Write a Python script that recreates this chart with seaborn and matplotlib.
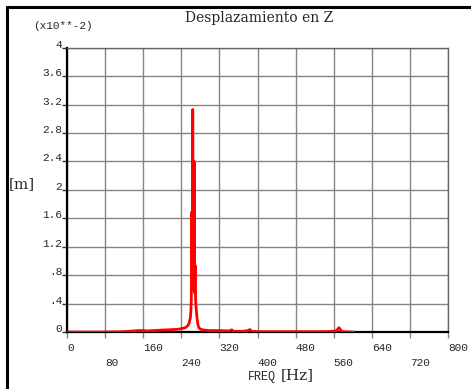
import matplotlib
matplotlib.use("Agg")
import matplotlib.pyplot as plt
import seaborn as sns
from matplotlib.lines import Line2D

# Espectro de desplazamiento (unidades de 1e-2 m)
freq_hz = [0, 40, 80, 120, 140, 150, 160, 170, 180, 195, 210, 225, 235, 242,
           248, 252, 255, 257, 259, 260, 261, 262, 263, 264, 265, 266, 267,
           268, 269, 270, 271, 272, 273, 274, 275, 277, 280, 285, 290, 300,
           320, 340, 346, 350, 370, 380, 384, 388, 400, 450, 500, 540, 560,
           566, 571, 576, 580, 601]
disp_e2 = [0.0, 0.0, 0.0, 0.005, 0.015, 0.02, 0.02, 0.015, 0.02, 0.025, 0.03,
           0.035, 0.04, 0.05, 0.06, 0.08, 0.1, 0.14, 0.2, 0.28, 0.45, 1.69,
           0.6, 3.13, 1.1, 0.7, 2.40, 0.55, 0.94, 0.45, 0.35, 0.28, 0.2, 0.15,
           0.1, 0.06, 0.04, 0.03, 0.025, 0.02, 0.02, 0.015, 0.03, 0.01, 0.01,
           0.02, 0.035, 0.01, 0.005, 0.005, 0.005, 0.005, 0.01, 0.02, 0.06,
           0.015, 0.005, 0.0]

x_major = [0, 160, 320, 480, 640, 800]
x_minor = [80, 240, 400, 560, 720]
y_ticks = [0, 0.4, 0.8, 1.2, 1.6, 2.0, 2.4, 2.8, 3.2, 3.6, 4.0]
y_labels = ["0", ".4", ".8", "1.2", "1.6", "2", "2.4", "2.8", "3.2", "3.6", "4"]

sns.set_style("white")
plt.rcParams["font.family"] = ["Liberation Mono", "DejaVu Sans Mono"]

W, H = 471, 389
fig = plt.figure(figsize=(W / 100, H / 100), dpi=100)
ax = fig.add_axes([67 / W, 1 - 332 / H, (448 - 67) / W, (332 - 47.7) / H])

sns.lineplot(x=freq_hz, y=disp_e2, color="#ff0000", lw=2, ax=ax, zorder=3)

ax.set_xlim(0, 800)
ax.set_ylim(0, 4)
ax.set_xticks(x_major)
ax.set_xticklabels([str(v) for v in x_major], ha="left")
ax.set_xticks(x_minor, minor=True)
ax.set_xticklabels([str(v) for v in x_minor], minor=True, ha="left")
ax.set_yticks(y_ticks)
ax.set_yticklabels(y_labels, va="baseline")
ax.set_xlabel("")
ax.set_ylabel("")

grid_col = "#858585"
ax.grid(True, which="both", color=grid_col, lw=1)
ax.set_axisbelow(True)
ax.tick_params(axis="x", which="both", direction="out", length=4.5,
               color=grid_col, width=1, labelsize=8, pad=3.5, bottom=True)
ax.tick_params(axis="x", which="minor", pad=14)
ax.tick_params(axis="y", direction="out", length=3.5, color="#333333",
               width=1, labelsize=8, pad=0, left=True)

for side in ["left", "bottom"]:
    ax.spines[side].set_color("black")
    ax.spines[side].set_linewidth(1.6)
for side in ["top", "right"]:
    ax.spines[side].set_color("#666666")
    ax.spines[side].set_linewidth(1)

# Marco exterior
fig.add_artist(Line2D([7 / W, 7 / W], [0, 1 - 7 / H], transform=fig.transFigure,
                      color="black", lw=2.2))
fig.add_artist(Line2D([7 / W, 1], [1 - 7 / H, 1 - 7 / H], transform=fig.transFigure,
                      color="black", lw=2.2))

serif = ["DejaVu Serif"]
fig.text(259 / W, 1 - 18 / H, "Desplazamiento en Z", family=serif, fontsize=10,
         ha="center", va="center")
fig.text(33 / W, 1 - 26 / H, "(x10**-2)", fontsize=8, ha="left", va="center")
fig.text(22 / W, 1 - 184 / H, "[m]", family=serif, fontsize=11,
         ha="center", va="center")
fig.text(276 / W, 1 - 377 / H, "FREQ", fontsize=8.5, ha="right", va="center")
fig.text(281 / W, 1 - 375 / H, "[Hz]", family=serif, fontsize=11,
         ha="left", va="center")

fig.savefig("out.png", dpi=100)
